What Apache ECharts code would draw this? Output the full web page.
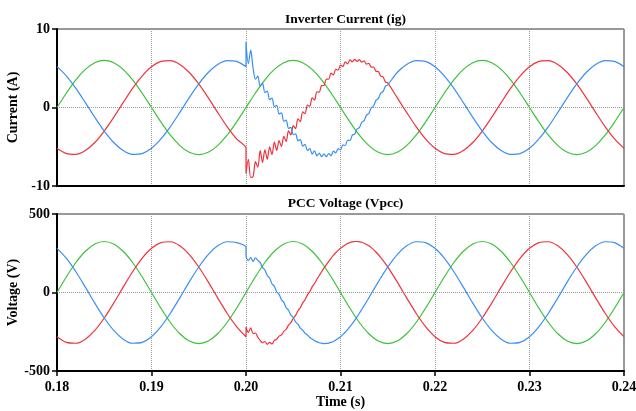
<!DOCTYPE html>
<html>
<head>
<meta charset="utf-8">
<script src="https://cdn.jsdelivr.net/npm/echarts@6/dist/echarts.min.js"></script>
<style>
  html, body { margin: 0; padding: 0; background: #fff; }
  #chart { width: 636px; height: 411px; }
</style>
</head>
<body>
<div id="chart"></div>
<script>
// steady samples, 1 ms apart
var time = [0.180, 0.181, 0.182, 0.183, 0.184, 0.185, 0.186, 0.187, 0.188, 0.189,
            0.190, 0.191, 0.192, 0.193, 0.194, 0.195, 0.196, 0.197, 0.198, 0.199,
            0.200, 0.201, 0.202, 0.203, 0.204, 0.205, 0.206, 0.207, 0.208, 0.209,
            0.210, 0.211, 0.212, 0.213, 0.214, 0.215, 0.216, 0.217, 0.218, 0.219,
            0.220, 0.221, 0.222, 0.223, 0.224, 0.225, 0.226, 0.227, 0.228, 0.229,
            0.230, 0.231, 0.232, 0.233, 0.234, 0.235, 0.236, 0.237, 0.238, 0.239, 0.240];

// phases disturbed at 0.2 s: finer samples around the event
var timeFast = [0.180, 0.181, 0.182, 0.183, 0.184, 0.185, 0.186, 0.187, 0.188, 0.189,
                0.190, 0.191, 0.192, 0.193, 0.194, 0.195, 0.196, 0.197, 0.198, 0.199,
                0.200, 0.200,
                0.20025, 0.2005, 0.20075, 0.201, 0.20125, 0.2015, 0.20175, 0.202,
                0.20225, 0.2025, 0.20275, 0.203, 0.20325, 0.2035, 0.20375, 0.204,
                0.20425, 0.2045, 0.20475, 0.205, 0.20525, 0.2055, 0.20575, 0.206,
                0.20625, 0.2065, 0.20675, 0.207, 0.20725, 0.2075, 0.20775, 0.208,
                0.20825, 0.2085, 0.20875, 0.209, 0.20925, 0.2095, 0.20975, 0.210,
                0.21025, 0.2105, 0.21075, 0.211, 0.21125, 0.2115, 0.21175, 0.212,
                0.21225, 0.2125, 0.21275, 0.213, 0.21325, 0.2135, 0.21375, 0.214,
                0.21425, 0.2145, 0.21475, 0.215,
                0.216, 0.217, 0.218, 0.219, 0.220, 0.221, 0.222, 0.223, 0.224, 0.225,
                0.226, 0.227, 0.228, 0.229, 0.230, 0.231, 0.232, 0.233, 0.234, 0.235,
                0.236, 0.237, 0.238, 0.239, 0.240];

// Inverter current (A)
var greenI = [0, 1.85, 3.53, 4.85, 5.71, 6, 5.71, 4.85, 3.53, 1.85, 0, -1.85, -3.53, -4.85, -5.71, -6, -5.71, -4.85, -3.53, -1.85,
              0, 1.85, 3.53, 4.85, 5.71, 6, 5.71, 4.85, 3.53, 1.85, 0, -1.85, -3.53, -4.85, -5.71, -6, -5.71, -4.85, -3.53, -1.85,
              0, 1.85, 3.53, 4.85, 5.71, 6, 5.71, 4.85, 3.53, 1.85, 0, -1.85, -3.53, -4.85, -5.71, -6, -5.71, -4.85, -3.53, -1.85, 0];

var redI = [-5.2, -5.87, -5.97, -5.48, -4.46, -3, -1.25, 0.63, 2.44, 4.01, 5.2, 5.87, 5.97, 5.48, 4.46, 3, 1.25, -0.63, -2.44, -4.01,
            -5.2,
            -8.4, -6.6, -8.9, -8.8, -6.9, -7.6, -5.5, -7.0, -5.4, -6.6, -5.0, -6.0, -4.4,
            -5.47, -4.23, -4.96, -3.66, -4.33, -2.98, -3.50, -2.30, -2.68, -1.45, -1.80, -0.55,
            -0.78, 0.29, 0.16, 1.23, 0.94, 2.00, 1.95, 2.79, 2.81, 3.62, 3.60, 4.37,
            4.15, 4.86, 4.75, 5.40, 5.22, 5.80, 5.55, 6.07, 5.82, 6.12, 5.87, 6.10,
            5.77, 5.93, 5.53, 5.61, 5.14, 5.16, 4.63, 4.59, 4.00, 3.91, 3.27, 3.13,
            1.25, -0.63, -2.44, -4.01, -5.2, -5.87, -5.97, -5.48, -4.46, -3, -1.25, 0.63, 2.44,
            4.01, 5.2, 5.87, 5.97, 5.48, 4.46, 3, 1.25, -0.63, -2.44, -4.01, -5.2];

var blueI = [5.2, 4.01, 2.44, 0.63, -1.25, -3, -4.46, -5.48, -5.97, -5.87, -5.2, -4.01, -2.44, -0.63, 1.25, 3, 4.46, 5.48, 5.97, 5.87,
             5.2,
             8.35, 5.6, 7.3, 5.0, 3.6, 4.0, 2.7, 3.1, 1.9, 2.1, 1.0,
             1.19, 0.13, 0.26, -0.81, -0.68, -1.75, -1.60, -2.65, -2.53, -3.45,
             -3.35, -4.23, -4.08, -4.91, -4.71, -5.48, -5.22, -5.93, -5.51, -6.15,
             -5.82, -6.25, -5.92, -6.27, -5.87, -6.15, -5.57, -5.78, -5.24, -5.38,
             -4.77, -4.84, -4.17, -4.20, -3.53, -3.39, -2.74, -2.56, -1.88, -1.67,
             -0.97, -0.75, -0.04, 0.19, 0.90, 1.13, 1.82, 2.03, 2.70, 2.88,
             4.46, 5.48, 5.97, 5.87, 5.2, 4.01, 2.44, 0.63, -1.25, -3, -4.46, -5.48, -5.97,
             -5.87, -5.2, -4.01, -2.44, -0.63, 1.25, 3, 4.46, 5.48, 5.97, 5.87, 5.2];

// PCC voltage (V)
var greenV = [0, 100.4, 191, 262.9, 309.1, 325, 309.1, 262.9, 191, 100.4, 0, -100.4, -191, -262.9, -309.1, -325, -309.1, -262.9, -191, -100.4,
              0, 100.4, 191, 262.9, 309.1, 325, 309.1, 262.9, 191, 100.4, 0, -100.4, -191, -262.9, -309.1, -325, -309.1, -262.9, -191, -100.4,
              0, 100.4, 191, 262.9, 309.1, 325, 309.1, 262.9, 191, 100.4, 0, -100.4, -191, -262.9, -309.1, -325, -309.1, -262.9, -191, -100.4, 0];

var redV = [-281.5, -317.9, -323.4, -297, -241.5, -162.5, -67.6, 34.1, 132.3, 217.4, 281.5, 317.9, 323.4, 297, 241.5, 162.5, 67.6, -34.1, -132.3, -217.4,
            -282,
            -220, -255, -225, -262, -258, -285, -305, -320, -312, -330, -318, -328, -305,
            -298, -278, -270, -248, -234, -208, -192, -164, -146, -116, -97, -66, -46, -15, 6, 36, 57,
            84, 108, 132, 155, 177, 198, 218, 236, 253, 268, 282, 293, 303, 312, 318, 322,
            325, 325, 323, 320, 314, 306, 297, 286, 273, 258, 242, 224, 205, 184, 163,
            67.6, -34.1, -132.3, -217.4, -281.5, -317.9, -323.4, -297, -241.5, -162.5, -67.6, 34.1, 132.3,
            217.4, 281.5, 317.9, 323.4, 297, 241.5, 162.5, 67.6, -34.1, -132.3, -217.4, -281.5];

var blueV = [281.5, 217.4, 132.3, 34.1, -67.6, -162.5, -241.5, -297, -323.4, -317.9, -281.5, -217.4, -132.3, -34.1, 67.6, 162.5, 241.5, 297, 323.4, 317.9,
             288,
             232, 205, 222, 198, 220, 205, 190,
             160, 143, 108, 92, 56, 40, 4, -12, -46, -63, -97, -113, -144, -160, -188, -202, -227, -240, -260, -271, -287, -296, -307,
             -314, -320, -323, -325, -324, -322, -318, -312, -303, -293, -282, -268, -253, -236, -218, -198,
             -177, -155, -132, -108, -84, -59, -34, -8, 17, 42, 68, 92, 117, 140, 163,
             241.5, 297, 323.4, 317.9, 281.5, 217.4, 132.3, 34.1, -67.6, -162.5, -241.5, -297, -323.4,
             -317.9, -281.5, -217.4, -132.3, -34.1, 67.6, 162.5, 241.5, 297, 323.4, 317.9, 281.5];

var xTicks = { min: 0.18, max: 0.24, interval: 0.01 };
var currentTicks = { min: -10, max: 10, interval: 10 };
var voltageTicks = { min: -500, max: 500, interval: 500 };

var RED = '#f0323c', BLUE = '#3a8ff2', GREEN = '#3cc23a';
var FONT = 'Liberation Serif';

function pairs(ts, vs) {
    return vs.map(function (v, i) { return [ts[i], v]; });
}

var chart = echarts.init(document.getElementById('chart'));

var labelStyle = { fontFamily: FONT, fontWeight: 'bold', fontSize: 14, color: '#000' };
var dotted = { show: true, lineStyle: { type: 'dotted', color: '#999', width: 1 } };

function xAxisFor(grid, withLabels) {
    return {
        type: 'value', gridIndex: grid,
        min: xTicks.min, max: xTicks.max, interval: xTicks.interval,
        axisLine: { onZero: false, lineStyle: { color: '#000', width: 2 } },
        axisTick: { show: withLabels, length: 5, lineStyle: { color: '#000', width: 1.5 } },
        axisLabel: {
            show: withLabels, margin: 9,
            fontFamily: FONT, fontWeight: 'bold', fontSize: 14, color: '#000',
            formatter: function (v) { return v.toFixed(2); }
        },
        splitLine: dotted,
        name: withLabels ? 'Time (s)' : '',
        nameLocation: 'middle', nameGap: 24, nameMoveOverlap: false,
        nameTextStyle: labelStyle
    };
}

function yAxisFor(grid, ticks, name) {
    return {
        type: 'value', gridIndex: grid,
        min: ticks.min, max: ticks.max, interval: ticks.interval,
        axisLine: { onZero: false, lineStyle: { color: '#000', width: 2 } },
        axisTick: { show: true, length: 5, lineStyle: { color: '#000', width: 1.5 } },
        axisLabel: { margin: 7, fontFamily: FONT, fontWeight: 'bold', fontSize: 14, color: '#000' },
        splitLine: dotted,
        name: name, nameLocation: 'middle', nameGap: 37, nameMoveOverlap: false,
        nameTextStyle: labelStyle
    };
}

function line(name, xi, ts, vs, color) {
    return {
        name: name, type: 'line', xAxisIndex: xi, yAxisIndex: xi,
        data: pairs(ts, vs), showSymbol: false, smooth: 0.3,
        lineStyle: { color: color, width: 1.2 }, itemStyle: { color: color },
        animation: false
    };
}

var option = {
    animation: false,
    title: [
        { text: 'Inverter Current (ig)', left: 340.5, top: 7.5, textAlign: 'center',
          textStyle: { fontFamily: FONT, fontWeight: 'bold', fontSize: 13.5, color: '#000' } },
        { text: 'PCC Voltage (Vpcc)', left: 340.5, top: 192, textAlign: 'center',
          textStyle: { fontFamily: FONT, fontWeight: 'bold', fontSize: 13.5, color: '#000' } }
    ],
    grid: [
        { left: 57, right: 12, top: 29, height: 157, show: true, borderColor: '#333', borderWidth: 1,
          outerBoundsMode: 'none', containLabel: false },
        { left: 57, right: 12, top: 214, height: 157, show: true, borderColor: '#333', borderWidth: 1,
          outerBoundsMode: 'none', containLabel: false }
    ],
    xAxis: [xAxisFor(0, false), xAxisFor(1, true)],
    yAxis: [yAxisFor(0, currentTicks, 'Current (A)'), yAxisFor(1, voltageTicks, 'Voltage (V)')],
    series: [
        line('ig_a', 0, time, greenI, GREEN),
        line('ig_b', 0, timeFast, redI, RED),
        line('ig_c', 0, timeFast, blueI, BLUE),
        line('v_a', 1, time, greenV, GREEN),
        line('v_b', 1, timeFast, redV, RED),
        line('v_c', 1, timeFast, blueV, BLUE)
    ]
};

chart.setOption(option);
</script>
</body>
</html>
